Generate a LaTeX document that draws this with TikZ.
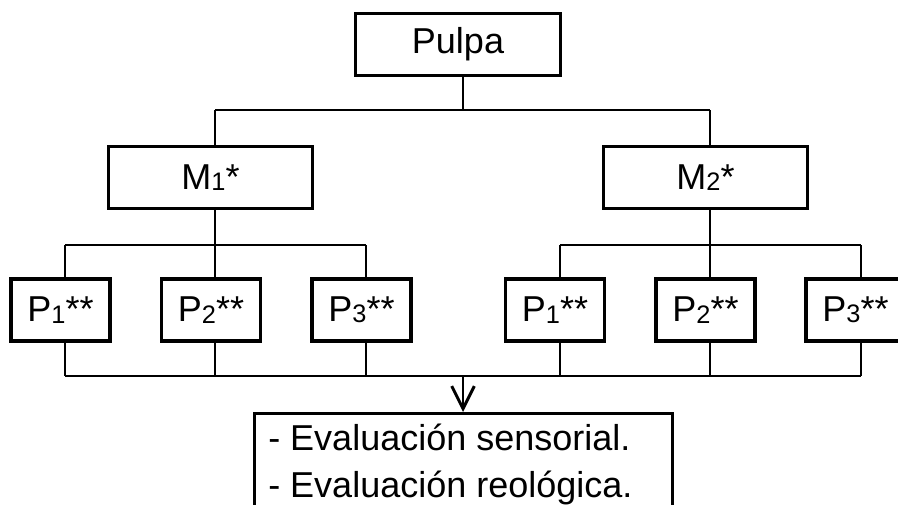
\documentclass[tikz,border=0pt]{standalone}
\usepackage{fontspec}
\setmainfont{Liberation Sans}
\usetikzlibrary{arrows.meta}
\newcommand\sbn[1]{\raisebox{-1pt}{\fontsize{19}{19}\selectfont #1}}
\begin{document}
\begin{tikzpicture}[x=0.75pt,y=-0.75pt,
  box/.style={draw,line width=2.3pt,inner sep=0pt,font=\fontsize{27}{32}\selectfont},
  bigbox/.style={box,minimum width=153.5pt,minimum height=46.5pt},
  pbox/.style={box,minimum width=74.25pt,minimum height=46.5pt},
  wire/.style={line width=2.2pt},
  txt/.style={anchor=base west,inner sep=0pt,font=\fontsize{27}{32}\selectfont}]
\useasboundingbox (0,0) rectangle (898,504);
% boxes
\node[bigbox] (pulpa) at (458,44.5) {Pulpa};
\node[bigbox] (m1) at (210.5,177.5) {M\sbn{1}*};
\node[bigbox] (m2) at (705.5,177.5) {M\sbn{2}*};
\node[pbox] (p11) at (60.5,310) {P\sbn{1}**};
\node[pbox] (p12) at (211,310) {P\sbn{2}**};
\node[pbox] (p13) at (361.5,310) {P\sbn{3}**};
\node[pbox] (p21) at (555,310) {P\sbn{1}**};
\node[pbox] (p22) at (705.5,310) {P\sbn{2}**};
\node[pbox] (p23) at (855.5,310) {P\sbn{3}**};
\node[box,anchor=north west,minimum width=313.5pt,minimum height=90pt] (eval) at (253,412) {};
\node[txt] (e1) at (268,450) {- Evaluación sensorial.};
\node[txt] (e2) at (268,497) {- Evaluación reológica.};
% junction coordinates
\coordinate (j0) at (463,110);
\coordinate (ja) at (215,110);
\coordinate (jb) at (710,110);
\coordinate (la) at (215,245);
\coordinate (lb) at (710,245);
\coordinate (x11) at (65,245);
\coordinate (x13) at (366,245);
\coordinate (x21) at (560,245);
\coordinate (x23) at (861,245);
\coordinate (q11) at (65,376);
\coordinate (q12) at (215,376);
\coordinate (q13) at (366,376);
\coordinate (q21) at (560,376);
\coordinate (q22) at (710,376);
\coordinate (q23) at (861,376);
\coordinate (jm) at (463,376);
% top tree
\draw[wire] (pulpa.south -| j0) -- (j0);
\draw[wire] (ja) -- (jb);
\draw[wire] (ja) -- (m1.north -| ja);
\draw[wire] (jb) -- (m2.north -| jb);
% M1 branches
\draw[wire] (m1.south -| la) -- (la);
\draw[wire] (x11) -- (x13);
\draw[wire] (x11) -- (p11.north -| x11);
\draw[wire] (la) -- (p12.north -| la);
\draw[wire] (x13) -- (p13.north -| x13);
% M2 branches
\draw[wire] (m2.south -| lb) -- (lb);
\draw[wire] (x21) -- (x23);
\draw[wire] (x21) -- (p21.north -| x21);
\draw[wire] (lb) -- (p22.north -| lb);
\draw[wire] (x23) -- (p23.north -| x23);
% bottom collector
\draw[wire] (p11.south -| q11) -- (q11);
\draw[wire] (p12.south -| q12) -- (q12);
\draw[wire] (p13.south -| q13) -- (q13);
\draw[wire] (p21.south -| q21) -- (q21);
\draw[wire] (p22.south -| q22) -- (q22);
\draw[wire] (p23.south -| q23) -- (q23);
\draw[wire] (q11) -- (q23);
\draw[wire,-{Straight Barb[length=17pt,width=17pt]}] (jm) -- (eval.north -| jm);
\end{tikzpicture}
\end{document}
